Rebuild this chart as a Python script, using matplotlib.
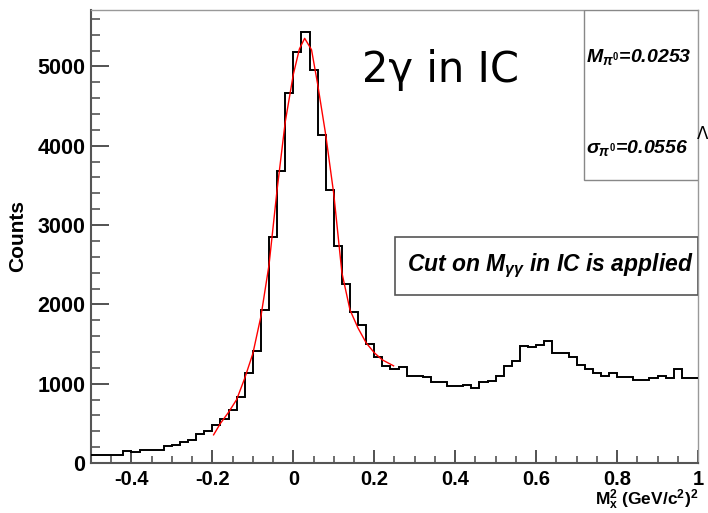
import numpy as np
import matplotlib
matplotlib.use("Agg")
import matplotlib.pyplot as plt
from matplotlib.patches import Rectangle
from matplotlib.ticker import MultipleLocator

plt.rcParams['font.family'] = ['Liberation Sans', 'DejaVu Sans']
plt.rcParams['mathtext.fontset'] = 'custom'
plt.rcParams['mathtext.rm'] = 'Liberation Sans:bold'
plt.rcParams['mathtext.it'] = 'Liberation Sans:bold:italic'
plt.rcParams['mathtext.bf'] = 'Liberation Sans:bold'

# --- histogram: 75 bins of 0.02 from -0.5 to 1.0 ---
bin_lo = -0.5
bin_hi = 1.0
n_bins = 75
counts = [
    105, 105, 100, 95, 150, 135, 160, 160, 165, 210,
    230, 270, 290, 360, 400, 475, 555, 665, 830, 1140,
    1410, 1930, 2850, 3680, 4660, 5185, 5435, 4960, 4140, 3440,
    2730, 2255, 1910, 1735, 1500, 1335, 1228, 1190, 1210, 1095,
    1092, 1080, 1025, 1025, 970, 968, 979, 945, 1021, 1030,
    1097, 1224, 1287, 1470, 1464, 1489, 1535, 1392, 1392, 1338,
    1232, 1190, 1139, 1097, 1131, 1089, 1089, 1042, 1042, 1076,
    1097, 1076, 1181, 1068, 1068,
]

# --- fitted curve ---
fit_x = [-0.197, -0.18, -0.16, -0.14, -0.12, -0.10, -0.08, -0.06, -0.04,
         -0.02, 0.0, 0.015, 0.028, 0.045, 0.06, 0.08, 0.10, 0.12, 0.14,
         0.16, 0.18, 0.20, 0.22, 0.2477]
fit_y = [355, 500, 640, 800, 1070, 1380, 1850, 2500, 3450,
         4300, 4900, 5220, 5355, 5210, 4780, 4140, 3390, 2400, 1930,
         1700, 1515, 1390, 1300, 1225]

x_ticks = [-0.4, -0.2, 0.0, 0.2, 0.4, 0.6, 0.8, 1.0]
x_labels = ["-0.4", "-0.2", "0", "0.2", "0.4", "0.6", "0.8", "1"]
y_ticks = [0, 1000, 2000, 3000, 4000, 5000]
y_labels = ["0", "1000", "2000", "3000", "4000", "5000"]

fig = plt.figure(figsize=(7.08, 5.13), dpi=100)
ax = fig.add_axes([0.1285, 0.0975, 0.8574, 0.883])

edges = np.linspace(bin_lo, bin_hi, n_bins + 1)
ax.stairs(counts, edges, baseline=None, color='black', lw=1.4, zorder=3)
ax.plot(fit_x, fit_y, color='red', lw=1.0, zorder=4)

ax.set_xlim(bin_lo, bin_hi)
ax.set_ylim(0, 5712)

ax.set_xticks(x_ticks)
ax.set_xticklabels(x_labels)
ax.set_yticks(y_ticks)
ax.set_yticklabels(y_labels)
ax.xaxis.set_minor_locator(MultipleLocator(0.05))
ax.yaxis.set_minor_locator(MultipleLocator(200))

for lab in ax.get_yticklabels():
    lab.set_fontsize(15.5)
    lab.set_fontweight('bold')
for lab in ax.get_xticklabels():
    lab.set_fontsize(14.5)
    lab.set_fontweight('bold')

ax.tick_params(axis='y', which='major', direction='in', length=13, width=1.3,
               color='#444444', pad=4)
ax.tick_params(axis='y', which='minor', direction='in', length=6.5, width=1.2,
               color='#555555')
ax.tick_params(axis='x', which='major', direction='in', length=9.5, width=1.3,
               color='#444444', pad=5)
ax.tick_params(axis='x', which='minor', direction='in', length=5, width=1.2,
               color='#555555')

for side in ['left', 'bottom']:
    ax.spines[side].set_color('#555555')
    ax.spines[side].set_linewidth(1.5)
for side in ['top', 'right']:
    ax.spines[side].set_color('#999999')
    ax.spines[side].set_linewidth(1.0)

ax.set_ylabel("Counts", fontsize=15, fontweight='bold')
ax.yaxis.set_label_coords(-0.105, 0.5)
ax.set_xlabel(r"M$_{\mathrm{x}}^{\mathrm{2}}$ (GeV/c$^{\mathrm{2}}$)$^{\mathrm{2}}$",
              fontsize=12.5, fontweight='bold', loc='right')
ax.xaxis.set_label_coords(1.0, -0.054)

# stats box
ax.add_patch(Rectangle((0.812, 0.625), 0.188, 0.375, transform=ax.transAxes,
                       facecolor='white', edgecolor='#888888', lw=1.0, zorder=5))
ax.text(0.816, 0.896, r"$M_{\pi^{0}}$=0.0253", transform=ax.transAxes,
        fontsize=14, fontweight='bold', style='italic', va='center', ha='left', zorder=6)
ax.text(0.816, 0.695, r"$\sigma_{\pi^{0}}$=0.0556", transform=ax.transAxes,
        fontsize=14, fontweight='bold', style='italic', va='center', ha='left', zorder=6)

# cut legend box
ax.add_patch(Rectangle((0.501, 0.371), 0.499, 0.128, transform=ax.transAxes,
                       facecolor='white', edgecolor='#555555', lw=1.2, zorder=5))
ax.text(0.757, 0.435, r"Cut on $M_{\gamma\gamma}$ in IC is applied", transform=ax.transAxes,
        fontsize=16.5, fontweight='bold', style='italic', va='center', ha='center', zorder=6)

# big annotation
ax.text(0.575, 0.841, "2\u03b3 in IC", transform=ax.transAxes, fontsize=30,
        family='DejaVu Sans', ha='center', va='baseline', zorder=6)

fig.text(1.0, 0.73, "\u039b", fontsize=12, family='DejaVu Sans', ha='right', va='baseline')

fig.savefig("out.png", dpi=100)
